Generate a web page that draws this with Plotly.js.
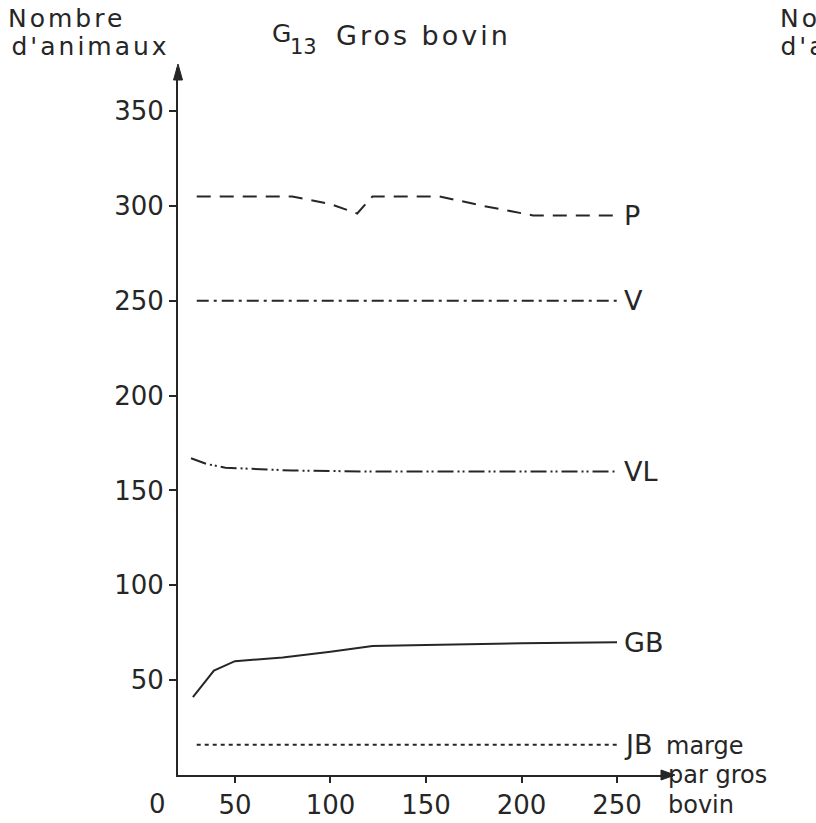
<!DOCTYPE html>
<html>
<head>
<meta charset="utf-8">
<script src="https://cdn.plot.ly/plotly-3.0.1.min.js"></script>
<style>
html,body{margin:0;padding:0;background:#fff;}
#chart{width:816px;height:823px;}
#chart g.annotation[data-index="5"] text,
#chart g.annotation[data-index="6"] text,
#chart g.annotation[data-index="7"] text,
#chart g.annotation[data-index="8"] text,
#chart g.annotation[data-index="11"] text{letter-spacing:3px;}
</style>
</head>
<body>
<div id="chart"></div>
<script>
// ---- data ----
const pX  = [30, 55, 80, 100, 114, 122, 140, 157, 180, 206, 230, 250];
const pY  = [305, 305, 305, 301, 296, 305, 305, 305, 300, 295, 295, 295];
const vX  = [30, 250];
const vY  = [250, 250];
const vlX = [27, 35, 45, 60, 80, 120, 180, 250];
const vlY = [167, 164, 162, 161.5, 160.5, 160, 160, 160];
const gbX = [28, 39, 50, 75, 100, 122, 150, 200, 250];
const gbY = [41, 55, 60, 62, 65, 68, 68.5, 69.5, 70];
const jbX = [30, 250];
const jbY = [16, 16];
const seriesNames = ["P", "V", "VL", "GB", "JB"];
const yTicks = [50, 100, 150, 200, 250, 300, 350];
const xTicks = [50, 100, 150, 200, 250];

const ink = "#262626";
const FONT = "DejaVu Sans, Liberation Sans, sans-serif";

// plot box in pixels
const L = 178, R = 673, T = 68, B = 775, W = 816, H = 823;
const px = x => (x - L) / (R - L);
const py = y => (B - y) / (B - T);

function line(x, y, dash, name) {
  return {x: x, y: y, mode: "lines", name: name, showlegend: false,
          hoverinfo: "skip",
          line: {color: ink, width: 2, dash: dash, shape: "linear"}};
}

const traces = [
  line(pX, pY, "14px,9px", seriesNames[0]),
  line(vX, vY, "12px,5px,3px,5px", seriesNames[1]),
  line(vlX, vlY, "16px,4px,2px,3px,2px,4px", seriesNames[2]),
  line(gbX, gbY, "solid", seriesNames[3]),
  line(jbX, jbY, "4px,4px", seriesNames[4])
];

const labFont = {family: FONT, size: 27, color: ink};
const ends = [pY[pY.length-1], vY[1], vlY[vlY.length-1], gbY[gbY.length-1], jbY[1]];
const annotations = seriesNames.map((n, i) => ({
  x: 252.5, y: ends[i], xref: "x", yref: "y", text: n, showarrow: false,
  xanchor: "left", yanchor: "middle", font: labFont
}));

function txt(text, x, y, size, xanchor) {
  return {x: px(x), y: py(y), xref: "paper", yref: "paper", text: text,
          showarrow: false, xanchor: xanchor || "left", yanchor: "middle",
          font: {family: FONT, size: size, color: ink}};
}

annotations.push(
  txt("Nombre", 66, 18, 25, "center"),        // 5
  txt("d'animaux", 90, 46, 25, "center"),     // 6
  txt("Nombre", 838, 18, 25, "center"),       // 7
  txt("d'animaux", 859, 46, 25, "center"),    // 8
  txt("G", 281, 34, 25, "center"),            // 9
  txt("13", 303, 47, 21, "center"),           // 10
  txt("Gros bovin", 423, 36, 27, "center"),   // 11
  txt("marge", 664, 746, 24),                 // 12
  txt("par gros", 666, 775, 24),              // 13
  txt("bovin", 666, 805, 24),                 // 14
  txt("0", 157, 804, 26, "center")            // 15
);

// arrow heads at the ends of the axes
function tri(x1, y1, x2, y2, x3, y3) {
  return {type: "path", xref: "paper", yref: "paper",
          path: `M ${px(x1)},${py(y1)} L ${px(x2)},${py(y2)} L ${px(x3)},${py(y3)} Z`,
          fillcolor: ink, line: {color: ink, width: 1}};
}
const shapes = [
  tri(R + 2, B, R - 12, B - 5, R - 12, B + 5),
  tri(L, T - 4, L - 4.5, T + 12, L + 4.5, T + 12)
];

const layout = {
  width: W, height: H,
  margin: {l: L, r: W - R, t: T, b: H - B, pad: 0},
  paper_bgcolor: "#ffffff", plot_bgcolor: "#ffffff",
  showlegend: false,
  xaxis: {range: [20.2, 279.3], tickvals: xTicks, ticktext: xTicks.map(String),
          showgrid: false, zeroline: false, showline: true, linecolor: ink, linewidth: 2,
          ticks: "outside", ticklen: 6, tickwidth: 2, tickcolor: ink,
          tickfont: {family: FONT, size: 26, color: ink}, fixedrange: true},
  yaxis: {range: [0, 372.7], tickvals: yTicks, ticktext: yTicks.map(String),
          showgrid: false, zeroline: false, showline: true, linecolor: ink, linewidth: 2,
          ticks: "outside", ticklen: 7, tickwidth: 2, tickcolor: ink,
          tickfont: {family: FONT, size: 26, color: ink}, fixedrange: true},
  annotations: annotations,
  shapes: shapes
};

Plotly.newPlot("chart", traces, layout, {staticPlot: true, displayModeBar: false});
</script>
</body>
</html>
